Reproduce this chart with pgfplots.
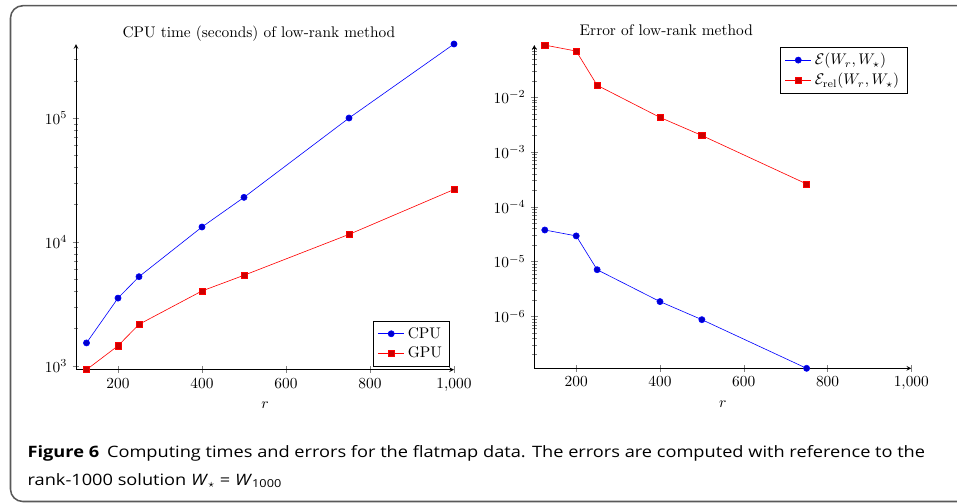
\documentclass[border=0pt]{standalone}
\usepackage{fontspec}
\usepackage{pgfplots}
\pgfplotsset{compat=1.18}
\newfontfamily\capfont[FakeStretch=1.16]{Open Sans}

\pgfplotsset{
  lowrank/.style={
    scale only axis,
    axis lines=left,
    tick align=center,
    xmin=100, xmax=1000,
    enlargelimits=false,
    xtick={200,400,600,800,1000},
    xlabel={$r$},
    legend cell align=left,
    every axis title shift=0pt,
  },
}

\begin{document}
\begin{tikzpicture}
\begin{scope}[x=0.65pt,y=-0.65pt]
  \useasboundingbox (0,0) rectangle (957,503);
  \clip (0,0) rectangle (957,503);
  \draw[black!65, line width=1pt, rounded corners=8pt] (10.5,5.7) rectangle (990,501.5);
  \begin{scope}[every node/.style={anchor=base west, inner sep=0pt,
        font={\capfont\fontsize{10.2pt}{12pt}\selectfont}}]
    \node at (27.3,457.3) {\textbf{Figure 6}\hspace{0.5em}Computing times and errors for the flatmap data. The errors are computed with reference to the};
    \node at (27.3,485.0) {rank-1000 solution \textit{W}$_\star$ = \textit{W}\textsubscript{1000}};
  \end{scope}
\end{scope}

% left: CPU time
\begin{semilogyaxis}[lowrank,
  at={(49.4pt,-240.3pt)}, anchor=south west,
  width=245.7pt, height=211.7pt,
  title={CPU time (seconds) of low-rank method},
  title style={at={(0.484,1)}, anchor=base, yshift=4.1pt},
  legend style={at={(0.989,0.011)}, anchor=south east},
]
\addplot+[blue, mark=*, mark options={fill=blue!80!black}] coordinates {
  (125,1530) (200,3520) (250,5240) (400,13200) (500,22900) (750,100000) (1000,396000)};
\addlegendentry{CPU}
\addplot+[red, mark=square*, mark options={fill=red!80!black}] coordinates {
  (125,930) (200,1450) (250,2160) (400,4020) (500,5380) (750,11500) (1000,26500)};
\addlegendentry{GPU}
\end{semilogyaxis}

% right: error
\begin{semilogyaxis}[lowrank,
  at={(347.3pt,-239.4pt)}, anchor=south west,
  width=245.05pt, height=210.1pt,
  title={Error of low-rank method},
  title style={at={(0.35,1)}, anchor=base, yshift=6pt},
  legend style={at={(0.989,0.995)}, anchor=north east},
]
\addplot+[blue, mark=*, mark options={fill=blue!80!black}] coordinates {
  (125,3.77e-5) (200,2.94e-5) (250,7.1e-6) (400,1.86e-6) (500,8.7e-7) (750,1.125e-7)};
\addlegendentry{$\mathcal{E}(W_r,W_\star)$}
\addplot+[red, mark=square*, mark options={fill=red!80!black}] coordinates {
  (125,0.0894) (200,0.0695) (250,0.0165) (400,0.00428) (500,0.0020) (750,2.61e-4)};
\addlegendentry{$\mathcal{E}_{\mathrm{rel}}(W_r,W_\star)$}
\end{semilogyaxis}
\end{tikzpicture}
\end{document}
